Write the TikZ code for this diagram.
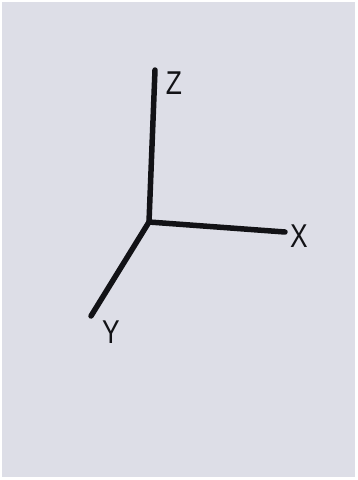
\documentclass[tikz,border=0pt]{standalone}
\usepackage{fontspec}
\setmainfont{Liberation Sans}
\definecolor{paper}{RGB}{221,222,231}
\definecolor{ink}{RGB}{18,18,22}
\tikzset{
  axisline/.style={draw=ink, line width=5.5pt, line cap=round},
  axislabel/.style={text=ink, font=\fontsize{33}{33}\selectfont, inner sep=0pt}
}
\begin{document}
\begin{tikzpicture}[x=1pt,y=-1pt]
  \fill[white] (0,0) rectangle (357,480);
  \fill[paper] (2,2) rectangle (355,477);
  \useasboundingbox (0,0) rectangle (357,480);
  \coordinate (O) at (149,222);
  \coordinate (Zend) at (155,70);
  \coordinate (Xend) at (285,232);
  \coordinate (Yend) at (91,316);
  \draw[axisline] (O) -- (Zend);
  \draw[axisline] (O) -- (Xend);
  \draw[axisline] (O) -- (Yend);
  \node[axislabel] (zl) at (174,83) {\scalebox{0.8}[1]{Z}};
  \node[axislabel] (xl) at (299,236) {\scalebox{0.8}[1]{X}};
  \node[axislabel] (yl) at (111,332) {\scalebox{0.8}[1]{Y}};
\end{tikzpicture}
\end{document}
